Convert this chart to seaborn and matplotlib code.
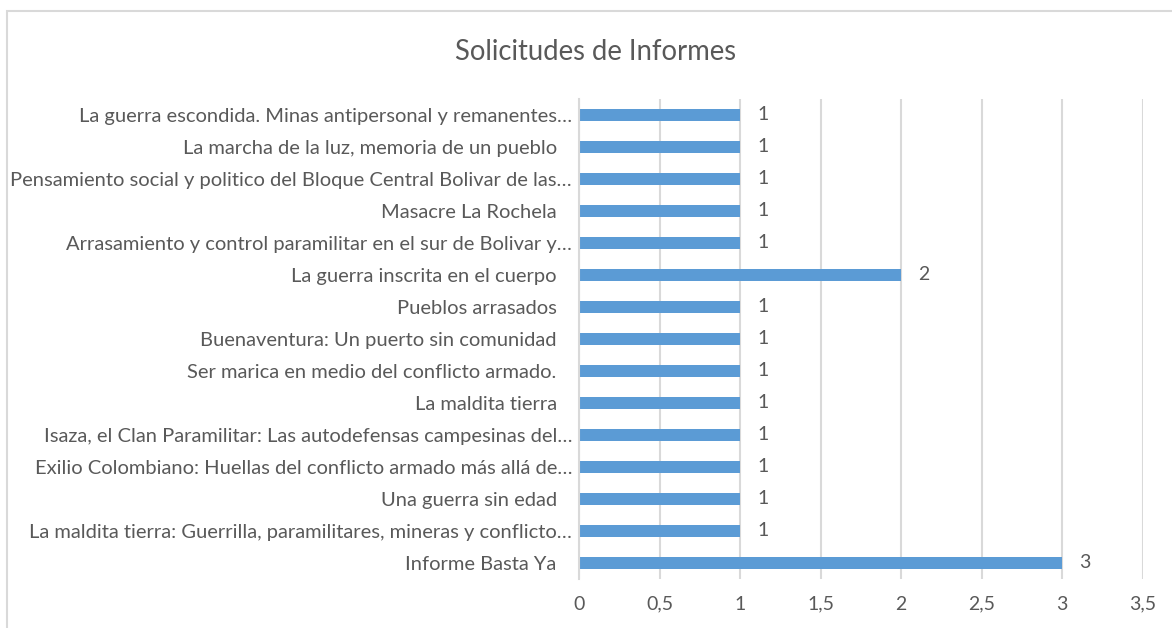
import matplotlib
matplotlib.use("Agg")
import matplotlib.pyplot as plt
import seaborn as sns
import pandas as pd
from matplotlib.patches import Rectangle
from matplotlib.ticker import FuncFormatter

categories = [
    "La guerra escondida. Minas antipersonal y remanentes…",
    "La marcha de la luz, memoria de un pueblo ",
    "Pensamiento social y politico del Bloque Central Bolivar de las…",
    "Masacre La Rochela ",
    "Arrasamiento y control paramilitar en el sur de Bolivar y…",
    "La guerra inscrita en el cuerpo ",
    "Pueblos arrasados ",
    "Buenaventura: Un puerto sin comunidad ",
    "Ser marica en medio del conflicto armado. ",
    "La maldita tierra ",
    "Isaza, el Clan Paramilitar: Las autodefensas campesinas del…",
    "Exilio Colombiano: Huellas del conflicto armado más allá de…",
    "Una guerra sin edad ",
    "La maldita tierra: Guerrilla, paramilitares, mineras y conflicto…",
    "Informe Basta Ya ",
]
values = [1, 1, 1, 1, 1, 2, 1, 1, 1, 1, 1, 1, 1, 1, 3]
x_ticks = [0, 0.5, 1, 1.5, 2, 2.5, 3, 3.5]
title = "Solicitudes de Informes"

df = pd.DataFrame({"cat": categories, "val": values})

sns.set_theme(style="white")
plt.rcParams["font.family"] = ["Lato", "DejaVu Sans"]

TXT = "#595959"
GRID = "#D9D9D9"
BAR = "#5B9BD5"
FS = 14

fig = plt.figure(figsize=(11.72, 6.28), dpi=100)
ax = fig.add_axes([579 / 1172, 1 - 579 / 628, (1142.5 - 579) / 1172, (579 - 99) / 628])

sns.barplot(data=df, x="val", y="cat", order=categories, color=BAR,
            width=0.35, saturation=1, ax=ax, edgecolor="none")

ax.set_xlim(0, 3.5)
ax.set_xticks(x_ticks)
ax.xaxis.set_major_formatter(FuncFormatter(lambda v, p: ("%g" % v).replace(".", ",")))
ax.set_yticks(range(len(categories)))
ax.set_yticklabels([c if c.endswith("…") else c + "  " for c in categories])
ax.grid(axis="x", color=GRID, linewidth=1.5)
ax.set_axisbelow(True)
for s in ["top", "right", "bottom"]:
    ax.spines[s].set_visible(False)
ax.spines["left"].set_color(GRID)
ax.spines["left"].set_linewidth(1.5)
ax.tick_params(axis="both", length=0, colors=TXT, labelsize=FS)
ax.tick_params(axis="x", pad=12)
ax.tick_params(axis="y", pad=5, labelsize=14.5)
ax.set_xlabel("")
ax.set_ylabel("")

for i, v in enumerate(values):
    ax.annotate(str(v), xy=(v, i), xytext=(12.5, 0), textcoords="offset points",
                va="center", ha="left", color=TXT, fontsize=FS)

fig.text(596 / 1172, 1 - 52 / 628, title, ha="center", va="center",
         color=TXT, fontsize=19.8)

fig.patches.append(Rectangle((7 / 1172, -0.1), 1.2, 1 - 11 / 628 + 0.1,
                             transform=fig.transFigure, fill=False,
                             edgecolor=GRID, linewidth=1.5))

fig.savefig("out.png", dpi=100)
